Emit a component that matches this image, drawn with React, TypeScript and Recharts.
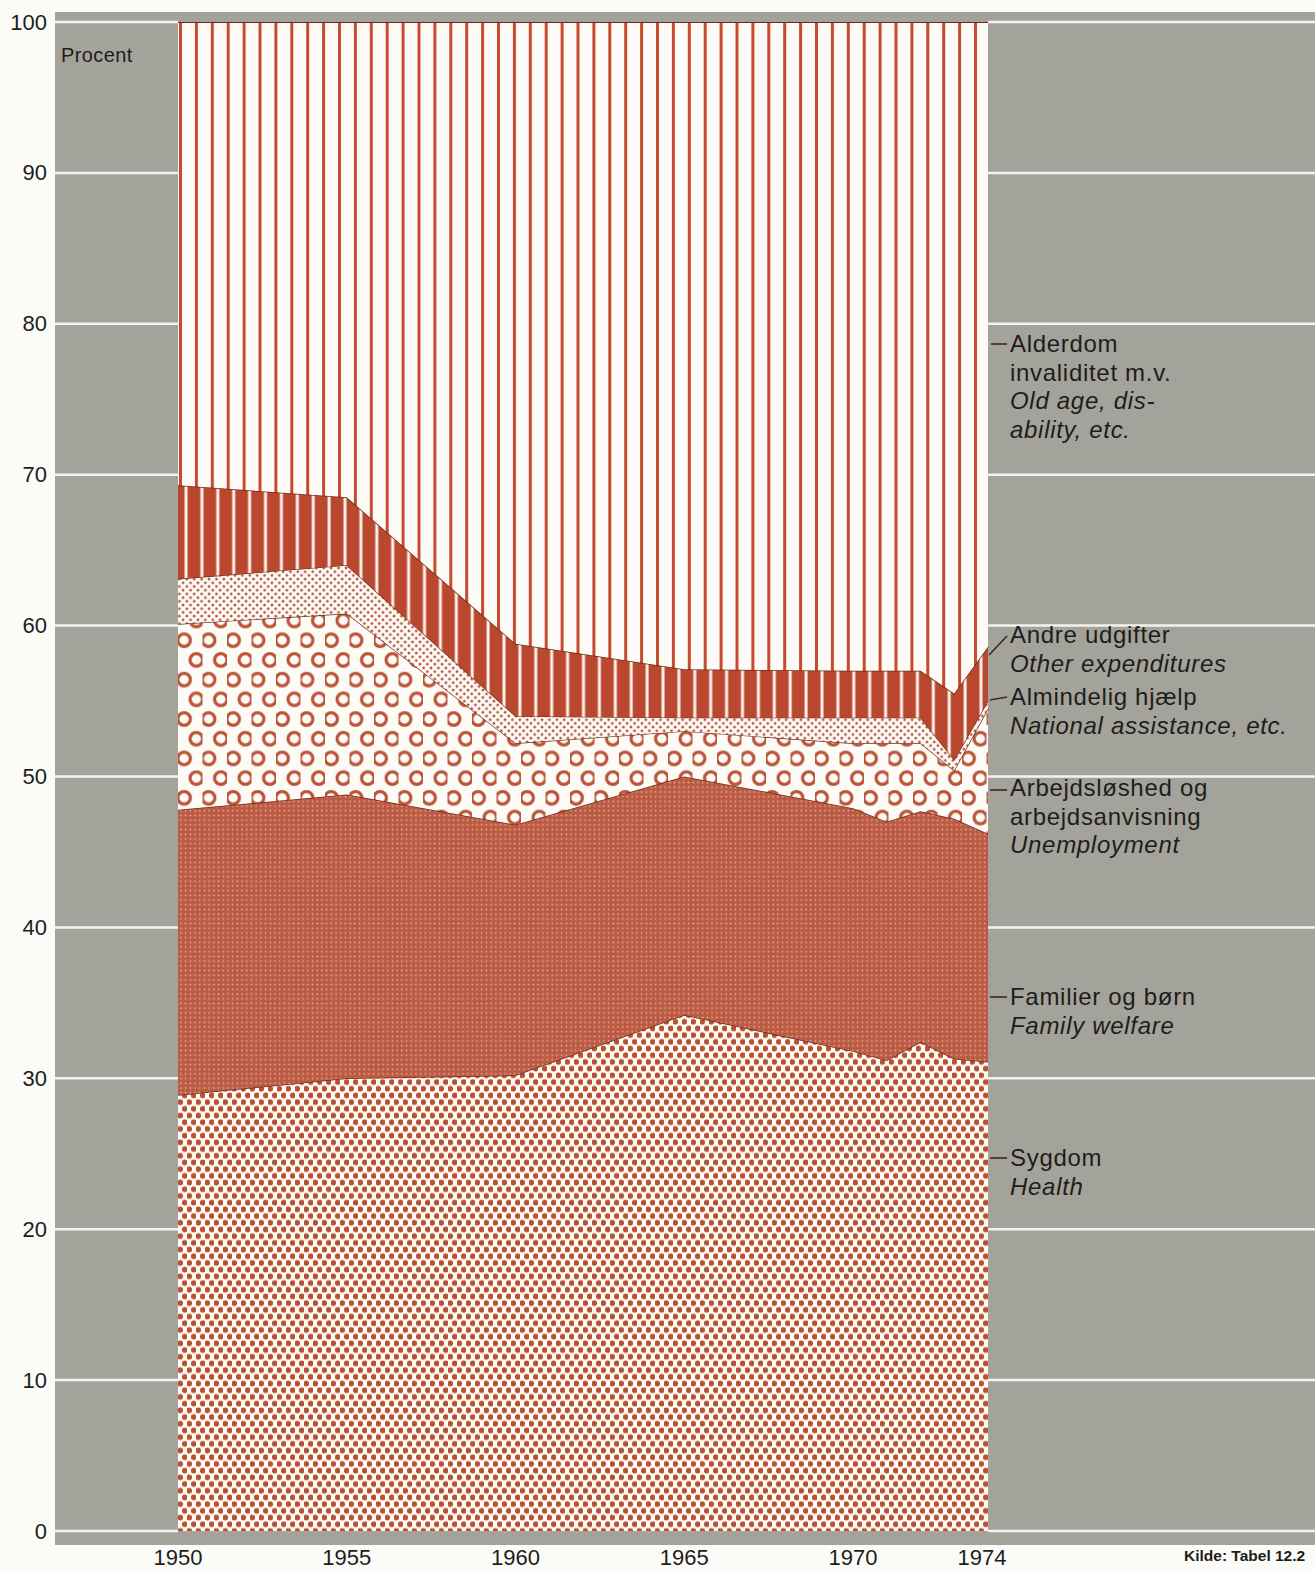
import React from "react";
import { AreaChart, Area, XAxis, YAxis } from "recharts";

// ---------- data (shares of social expenditure, percent) ----------
const YEARS = [1950, 1955, 1960, 1965, 1970, 1971, 1972, 1973, 1974];
const SYGDOM = [28.9, 30.0, 30.2, 34.2, 31.8, 31.2, 32.4, 31.3, 31.1];
const FAMILIER = [18.9, 18.8, 16.6, 15.8, 16.1, 15.8, 15.3, 15.9, 15.1];
const ARBEJDSLOSHED = [12.3, 12.0, 5.4, 3.0, 4.3, 5.2, 4.5, 3.2, 8.3];
const ALMINDELIG = [3.0, 3.2, 1.8, 0.9, 1.7, 1.7, 1.7, 0.7, 0.5];
const ANDRE = [6.2, 4.5, 4.8, 3.2, 3.1, 3.1, 3.1, 4.4, 3.6];
const ALDERDOM = [30.7, 31.5, 41.2, 42.9, 43.0, 43.0, 43.0, 44.5, 41.4];

const X_TICKS = [1950, 1955, 1960, 1965, 1970, 1974];
const Y_TICKS = [0, 10, 20, 30, 40, 50, 60, 70, 80, 90, 100];

const data = YEARS.map((year, i) => ({
  year,
  sygdom: SYGDOM[i],
  familier: FAMILIER[i],
  arbejdsloshed: ARBEJDSLOSHED[i],
  almindelig: ALMINDELIG[i],
  andre: ANDRE[i],
  alderdom: ALDERDOM[i],
}));

// ---------- layout ----------
const W = 1315;
const H = 1571;
const PLOT_LEFT = 178;
const PLOT_RIGHT = 988;
const PLOT_TOP = 22;
const X_AXIS_H = 40;
const PLOT_BOTTOM = H - X_AXIS_H;
const GRAY_LEFT = 55;

const FONT = '"Liberation Sans", Arial, Helvetica, sans-serif';
const TEXT = "#1d1d1b";
const RED = "#c64a2f";
const EDGE = "#6e2b1b";
const GRAY = "#a4a39b";

const YTick = (props: any) => {
  const { y, payload } = props;
  return (
    <g>
      <line x1={GRAY_LEFT} x2={PLOT_LEFT} y1={y} y2={y} stroke="#f4f2ec" strokeWidth={2.5} />
      <line x1={PLOT_RIGHT} x2={W} y1={y} y2={y} stroke="#f4f2ec" strokeWidth={2.5} />
      <text
        x={47}
        y={y}
        textAnchor="end"
        dominantBaseline="central"
        fontFamily={FONT}
        fontSize={22}
        fill={TEXT}
      >
        {payload.value}
      </text>
    </g>
  );
};

const XTick = (props: any) => {
  const { x, payload } = props;
  return (
    <text
      x={payload.value === 1974 ? x - 6 : x}
      y={PLOT_BOTTOM + 26}
      textAnchor="middle"
      dominantBaseline="central"
      fontFamily={FONT}
      fontSize={22}
      fill={TEXT}
    >
      {payload.value}
    </text>
  );
};

type LabelDef = { y: number; lines: { t: string; italic?: boolean }[]; leader: [number, number, number, number] };

const LABELS: LabelDef[] = [
  {
    y: 330,
    lines: [
      { t: "Alderdom" },
      { t: "invaliditet m.v." },
      { t: "Old age, dis-", italic: true },
      { t: "ability, etc.", italic: true },
    ],
    leader: [991, 344, 1007, 344],
  },
  {
    y: 621,
    lines: [{ t: "Andre udgifter" }, { t: "Other expenditures", italic: true }],
    leader: [989, 655, 1007, 636],
  },
  {
    y: 683,
    lines: [{ t: "Almindelig hjælp" }, { t: "National assistance, etc.", italic: true }],
    leader: [990, 700, 1007, 697],
  },
  {
    y: 774,
    lines: [{ t: "Arbejdsløshed og" }, { t: "arbejdsanvisning" }, { t: "Unemployment", italic: true }],
    leader: [990, 790, 1007, 790],
  },
  {
    y: 983,
    lines: [{ t: "Familier og børn" }, { t: "Family welfare", italic: true }],
    leader: [990, 997, 1007, 997],
  },
  {
    y: 1144,
    lines: [{ t: "Sygdom" }, { t: "Health", italic: true }],
    leader: [990, 1158, 1007, 1158],
  },
];

export default function App() {
  return (
    <div style={{ position: "absolute", left: 0, top: 0, width: W, height: H, background: "#fbfbf8", overflow: "hidden" }}>
      <div
        style={{
          position: "absolute",
          left: GRAY_LEFT,
          top: 12,
          width: W - GRAY_LEFT,
          height: 1533,
          background: GRAY,
        }}
      />
      <div style={{ position: "absolute", left: 0, top: 0 }}>
        <AreaChart
          width={W}
          height={H}
          data={data}
          margin={{ top: PLOT_TOP, right: W - PLOT_RIGHT, bottom: 0, left: 0 }}
        >
          <defs>
            <pattern id="pAlderdom" patternUnits="userSpaceOnUse" x={PLOT_LEFT} y={0} width={15.9} height={20}>
              <rect width={15.9} height={20} fill="#fdfbf6" />
              <rect x={1} width={3} height={20} fill={RED} />
            </pattern>
            <pattern id="pAndre" patternUnits="userSpaceOnUse" x={PLOT_LEFT} y={0} width={15.9} height={20}>
              <rect width={15.9} height={20} fill="#b9482f" />
              <rect x={6.5} width={3} height={20} fill="#fbf3ec" />
            </pattern>
            <pattern id="pAlmindelig" patternUnits="userSpaceOnUse" x={0} y={0} width={7.4} height={7.4}>
              <rect width={7.4} height={7.4} fill="#fdfbf6" />
              <circle cx={1.85} cy={1.85} r={1.4} fill="#b4523a" />
              <circle cx={5.55} cy={5.55} r={1.4} fill="#b4523a" />
            </pattern>
            <pattern id="pArbejds" patternUnits="userSpaceOnUse" x={PLOT_LEFT} y={0} width={24.5} height={39.4}>
              <rect width={24.5} height={39.4} fill="#fdfbf6" />
              <circle cx={6.1} cy={9.85} r={6.3} fill="none" stroke="#bb5439" strokeWidth={3.2} />
              <circle cx={18.35} cy={29.55} r={6.3} fill="none" stroke="#bb5439" strokeWidth={3.2} />
            </pattern>
            <pattern id="pFamilier" patternUnits="userSpaceOnUse" x={0} y={0} width={4.7} height={4.7}>
              <rect width={4.7} height={4.7} fill="#bc5b44" />
              <circle cx={2.35} cy={2.35} r={0.85} fill="#e8ae98" />
            </pattern>
            <pattern id="pSygdom" patternUnits="userSpaceOnUse" x={PLOT_LEFT} y={0} width={9} height={13.4}>
              <rect width={9} height={13.4} fill="#fdfbf6" />
              <circle cx={2.25} cy={3.35} r={2.8} fill="#b9502f" />
              <circle cx={6.75} cy={10.05} r={2.8} fill="#b9502f" />
            </pattern>
          </defs>
          <XAxis
            dataKey="year"
            type="number"
            domain={[1950, 1974]}
            ticks={X_TICKS}
            axisLine={false}
            tickLine={false}
            height={X_AXIS_H}
            tick={<XTick />}
            interval={0}
          />
          <YAxis
            type="number"
            domain={[0, 100]}
            ticks={Y_TICKS}
            axisLine={false}
            tickLine={false}
            width={PLOT_LEFT}
            tick={<YTick />}
            interval={0}
            allowDataOverflow
          />
          <Area type="linear" dataKey="sygdom" stackId="1" fill="url(#pSygdom)" fillOpacity={1} stroke={EDGE} strokeWidth={1.5} isAnimationActive={false} />
          <Area type="linear" dataKey="familier" stackId="1" fill="url(#pFamilier)" fillOpacity={1} stroke={EDGE} strokeWidth={1.5} isAnimationActive={false} />
          <Area type="linear" dataKey="arbejdsloshed" stackId="1" fill="url(#pArbejds)" fillOpacity={1} stroke={EDGE} strokeWidth={1.2} isAnimationActive={false} />
          <Area type="linear" dataKey="almindelig" stackId="1" fill="url(#pAlmindelig)" fillOpacity={1} stroke={EDGE} strokeWidth={1.2} isAnimationActive={false} />
          <Area type="linear" dataKey="andre" stackId="1" fill="url(#pAndre)" fillOpacity={1} stroke={EDGE} strokeWidth={1.5} isAnimationActive={false} />
          <Area type="linear" dataKey="alderdom" stackId="1" fill="url(#pAlderdom)" fillOpacity={1} stroke={EDGE} strokeWidth={2} isAnimationActive={false} />
        </AreaChart>
      </div>

      {/* leader lines */}
      <svg style={{ position: "absolute", left: 0, top: 0 }} width={W} height={H}>
        {LABELS.map((l, i) => (
          <line key={i} x1={l.leader[0]} y1={l.leader[1]} x2={l.leader[2]} y2={l.leader[3]} stroke="#3a2a22" strokeWidth={1.6} />
        ))}
      </svg>

      {/* right-hand labels */}
      {LABELS.map((l, i) => (
        <div
          key={i}
          style={{
            position: "absolute",
            left: 1010,
            top: l.y,
            fontFamily: FONT,
            fontSize: 24,
            letterSpacing: "0.7px",
            lineHeight: "28.5px",
            color: TEXT,
            whiteSpace: "nowrap",
          }}
        >
          {l.lines.map((ln, j) => (
            <div key={j} style={{ fontStyle: ln.italic ? "italic" : "normal" }}>
              {ln.t}
            </div>
          ))}
        </div>
      ))}

      <div
        style={{
          position: "absolute",
          left: 61,
          top: 44,
          fontFamily: FONT,
          fontSize: 20,
          letterSpacing: "0.4px",
          color: TEXT,
        }}
      >
        Procent
      </div>
      <div
        style={{
          position: "absolute",
          left: 1184,
          top: 1547,
          fontFamily: FONT,
          fontSize: 15.5,
          fontWeight: "bold",
          color: TEXT,
          whiteSpace: "nowrap",
        }}
      >
        Kilde: Tabel 12.2
      </div>
    </div>
  );
}
